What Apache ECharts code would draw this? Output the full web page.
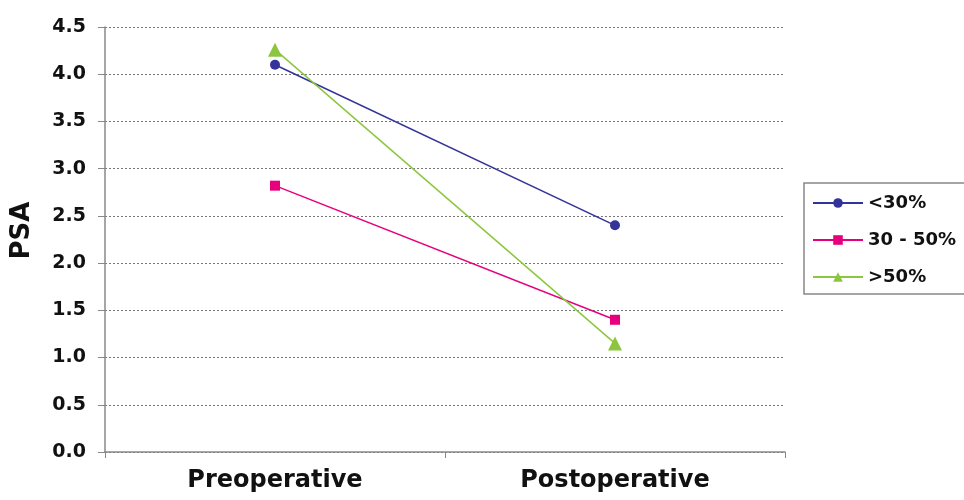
<!DOCTYPE html>
<html><head><meta charset="utf-8">
<script src="https://cdn.jsdelivr.net/npm/echarts@6/dist/echarts.min.js"></script>
<style>html,body{margin:0;padding:0;background:#fff}#c{width:964px;height:500px}</style>
</head><body><div id="c"></div>
<script>
const categories = ["Preoperative", "Postoperative"];
const seriesNames = ["<30%", "30 - 50%", ">50%"];
const lt30 = [4.1, 2.4];
const mid3050 = [2.82, 1.4];
const gt50 = [4.26, 1.15];
const chart = echarts.init(document.getElementById('c'));
const font = '"DejaVu Sans", Arial, sans-serif';
chart.setOption({
  animation: false,
  grid: {left: 105, top: 27, width: 680, height: 425},
  legend: {
    left: 804, top: 183, orient: 'vertical',
    data: seriesNames,
    borderColor: '#888', borderWidth: 1.5, padding: [11, 40, 8, 8],
    itemWidth: 50, itemHeight: 12, itemGap: 19,
    textStyle: {fontFamily: font, fontSize: 18, fontWeight: 'bold', color: '#111'}
  },
  xAxis: {
    type: 'category', data: categories, boundaryGap: true,
    axisLine: {lineStyle: {color: '#888', width: 1.5}},
    axisTick: {show: true, length: 6, lineStyle: {color: '#888'}},
    axisLabel: {fontFamily: font, fontSize: 24, fontWeight: 'bold', color: '#111', margin: 17}
  },
  yAxis: {
    type: 'value', min: 0, max: 4.5, interval: 0.5,
    name: 'PSA', nameLocation: 'middle', nameGap: 70, nameRotate: 90,
    nameTextStyle: {fontFamily: font, fontSize: 26, fontWeight: 'bold', color: '#111', padding: [0, 0, 0, 18]},
    axisLine: {show: true, lineStyle: {color: '#888', width: 1.5}},
    axisTick: {show: true, inside: false, length: 7, lineStyle: {color: '#888'}},
    axisLabel: {fontFamily: font, fontSize: 19, fontWeight: 'bold', color: '#111', margin: 19,
      formatter: v => v.toFixed(1)},
    splitLine: {show: true, lineStyle: {color: '#777', type: [2, 2], width: 1}}
  },
  series: [
    {name: seriesNames[0], type: 'line', data: lt30, symbol: 'circle', symbolSize: 10,
     lineStyle: {color: '#333399', width: 1.5}, itemStyle: {color: '#333399'}},
    {name: seriesNames[1], type: 'line', data: mid3050, symbol: 'rect', symbolSize: 10,
     lineStyle: {color: '#e6007e', width: 1.5}, itemStyle: {color: '#e6007e'}},
    {name: seriesNames[2], type: 'line', data: gt50, symbol: 'triangle', symbolSize: 14,
     lineStyle: {color: '#8cc63f', width: 1.5}, itemStyle: {color: '#8cc63f'}}
  ]
});
</script></body></html>
